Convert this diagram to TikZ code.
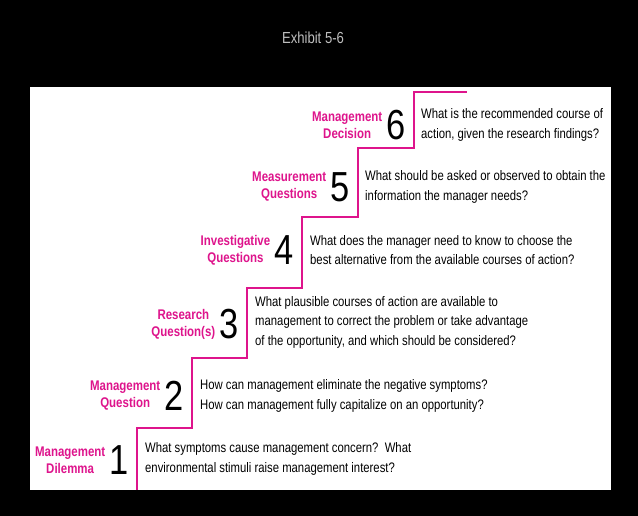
\documentclass[tikz,border=0pt]{standalone}
\usepackage{fontspec}
\setmainfont{Liberation Sans}[FakeStretch=0.82]
\usetikzlibrary{positioning}
\definecolor{stairpink}{RGB}{222,20,140}
\definecolor{titlegray}{RGB}{190,190,190}
\begin{document}
\begin{tikzpicture}[x=1pt,y=-1pt,
	stepnum/.style={anchor=east,font=\fontsize{42}{42}\selectfont,inner sep=0pt},
	steplabel/.style={left=4pt of #1,align=center,text=stairpink,font=\fontsize{14}{17}\selectfont\bfseries,inner sep=0pt},
	stepdesc/.style={anchor=west,align=left,font=\fontsize{13.8}{19.5}\selectfont,inner sep=0pt}]
	\fill[black] (0,0) rectangle (638,516);
	\fill[white] (30,87) rectangle (611,490);
	\node[text=titlegray,font=\fontsize{16}{16}\selectfont] (title) at (313,38) {Exhibit 5-6};
	% Stair corners
	\coordinate (s0) at (137,490);
	\coordinate (s1) at (137,428);
	\coordinate (s2) at (192,358);
	\coordinate (s3) at (247,288);
	\coordinate (s4) at (302,217);
	\coordinate (s5) at (358,148);
	\coordinate (s6) at (414,92);
	\coordinate (top) at (467,92);
	\draw[stairpink,line width=2.2pt] (s0) -- (s1) -| (s2) -| (s3) -| (s4) -| (s5) -| (s6) -- (top);
	% Numbers, labels and questions
	\foreach \n/\x/\y/\lab in {1/137/460/{Management\\Dilemma},
		2/192/396/{Management\\Question},
		3/247/324/{Research\\Question(s)},
		4/302/250/{Investigative\\Questions},
		5/358/187/{Measurement\\Questions},
		6/414/125/{Management\\Decision}}{
		\node[stepnum] (num\n) at (\x-8,\y) {\n};
		\node[steplabel=num\n] (lab\n) {\lab};
	}
	\node[stepdesc] (desc1) at (145,459) {What symptoms cause management concern?\ \ What\\environmental stimuli raise management interest?};
	\node[stepdesc] (desc2) at (200,396) {How can management eliminate the negative symptoms?\\How can management fully capitalize on an opportunity?};
	\node[stepdesc] (desc3) at (255,322) {What plausible courses of action are available to\\management to correct the problem or take advantage\\of the opportunity, and which should be considered?};
	\node[stepdesc] (desc4) at (310,250) {What does the manager need to know to choose the\\best alternative from the available courses of action?};
	\node[stepdesc] (desc5) at (365,187) {What should be asked or observed to obtain the\\information the manager needs?};
	\node[stepdesc] (desc6) at (421,125) {What is the recommended course of\\action, given the research findings?};
\end{tikzpicture}
\end{document}
